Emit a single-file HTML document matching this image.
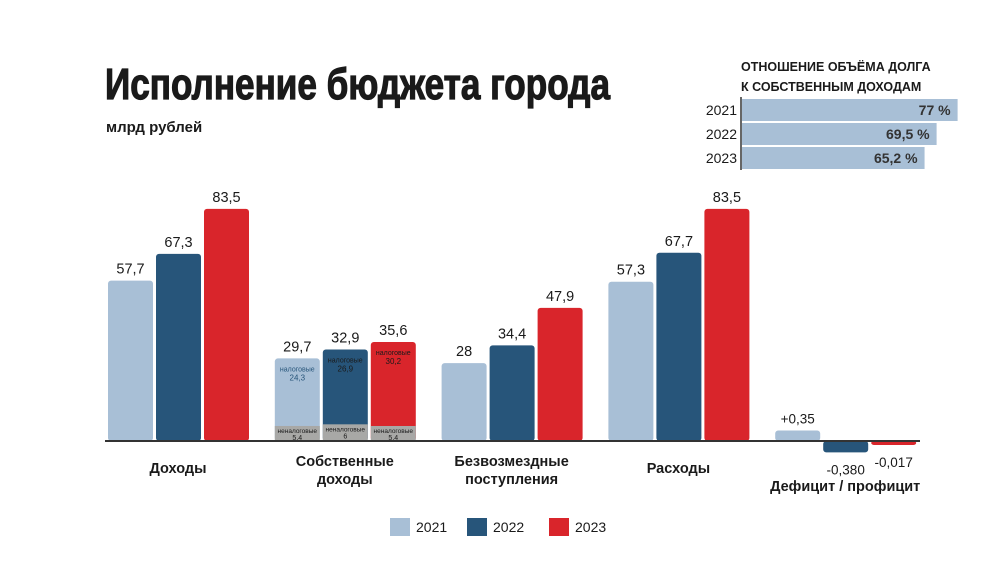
<!DOCTYPE html>
<html><head><meta charset="utf-8"><style>
body{margin:0;background:#fff;}
svg{display:block;font-family:"Liberation Sans",sans-serif;}
</style></head><body>
<svg id="c" width="1000" height="563" viewBox="0 0 1000 563">
<text x="105" y="99" font-family="'Liberation Sans Narrow','Liberation Sans',sans-serif" font-weight="bold" font-size="44" fill="#1a1a1a" stroke="#1a1a1a" stroke-width="1.2" textLength="505" lengthAdjust="spacingAndGlyphs">Исполнение бюджета города</text>
<text x="106" y="132" font-weight="bold" font-size="15" fill="#1a1a1a">млрд рублей</text>
<text x="741" y="71" font-weight="bold" font-size="12.5" fill="#1a1a1a">ОТНОШЕНИЕ ОБЪЁМА ДОЛГА</text>
<text x="741" y="91" font-weight="bold" font-size="12.5" fill="#1a1a1a">К СОБСТВЕННЫМ ДОХОДАМ</text>
<g id="debt"></g>
<g id="bars"></g>
<line x1="105" y1="441" x2="920" y2="441" stroke="#333" stroke-width="2"/>
<g id="legend"></g>
</svg>
<script>
const years=['2021','2022','2023'];
const colors=['#a8bfd6','#27557a','#d9252b'];
const categories=['Доходы','Собственные|доходы','Безвозмездные|поступления','Расходы','Дефицит / профицит'];
const values2021=[57.7,29.7,28,57.3,0.35];
const values2022=[67.3,32.9,34.4,67.7,-0.380];
const values2023=[83.5,35.6,47.9,83.5,-0.017];
const labels2021=['57,7','29,7','28','57,3','+0,35'];
const labels2022=['67,3','32,9','34,4','67,7','-0,380'];
const labels2023=['83,5','35,6','47,9','83,5','-0,017'];
const taxValues=[24.3,26.9,30.2];
const taxLabels=['24,3','26,9','30,2'];
const nontaxValues=[5.4,6,5.4];
const nontaxLabels=['5,4','6','5,4'];
const debtValues=[77,69.5,65.2];
const debtLabels=['77 %','69,5 %','65,2 %'];

const NS='http://www.w3.org/2000/svg';
function mk(tag,attrs,parent,text){const e=document.createElementNS(NS,tag);for(const k in attrs)e.setAttribute(k,attrs[k]);if(text!==undefined)e.textContent=text;parent.appendChild(e);return e;}
const base=441;
const y=v=>base-v*2.78;
const yd=v=>base-v*30;
const groupX=i=>108+i*166.8;
const barX=(i,j)=>groupX(i)+j*48;
const bw=45;
const bars=document.getElementById('bars');
const series=[values2021,values2022,values2023];
const slabels=[labels2021,labels2022,labels2023];
categories.forEach((cat,i)=>{
  for(let j=0;j<3;j++){
    const v=series[j][i];
    const x=barX(i,j);
    let top,bot;
    if(i===4){
      top=v>=0?yd(v):base; bot=v>=0?base:Math.max(yd(v),base+4);
    } else {top=y(v);bot=base;}
    const r=mk('rect',{x:x,y:top,width:bw,height:bot-top,rx:3,fill:colors[j]},bars);
    
    
    if(i===1){
      const gt=y(nontaxValues[j]);
      const g=mk('rect',{x:x,y:gt,width:bw,height:base-gt,fill:'#a8a8a6'},bars);
      
      
      const t1=mk('text',{x:x+bw/2,y:top+13,'text-anchor':'middle','font-size':7,fill:j===0?'#27557a':'#1a1a1a'},bars,'налоговые');
      
      
      const t2=mk('text',{x:x+bw/2,y:top+22,'text-anchor':'middle','font-size':8,fill:j===0?'#27557a':'#1a1a1a'},bars,taxLabels[j]);
      
      
      const t3=mk('text',{x:x+bw/2,y:gt+7,'text-anchor':'middle','font-size':6.5,fill:'#1a1a1a'},bars,'неналоговые');
      
      
      const t4=mk('text',{x:x+bw/2,y:gt+14,'text-anchor':'middle','font-size':7,fill:'#1a1a1a'},bars,nontaxLabels[j]);
      
      
    }
    const ly=(i===4&&v<0)?bot+22:top-7;
    const l=mk('text',{x:x+bw/2,y:ly,'text-anchor':'middle','font-size':i===4?13.5:14.5,fill:'#1a1a1a'},bars,slabels[j][i]);
    
    
  }
  const lines=cat.split('|');
  const cx=groupX(i)+70;
  const cy=i===4?491:473;
  lines.forEach((ln,k)=>{
    const t=mk('text',{x:cx,y:cy+k*18-(lines.length>1?7:0),'text-anchor':'middle','font-size':14.5,'font-weight':'bold',fill:'#1a1a1a'},bars,ln);
    
    
  });
});
const debt=document.getElementById('debt');
const dx=741, dScale=2.8;
debtValues.forEach((v,k)=>{
  const yy=99+k*24;
  const r=mk('rect',{x:dx+1,y:yy,width:v*dScale,height:22,fill:'#a8bfd6'},debt);
  
  
  const t=mk('text',{x:dx+v*dScale-6,y:yy+16,'text-anchor':'end','font-size':14,'font-weight':'bold',fill:'#333'},debt,debtLabels[k]);
  
  
  const yl=mk('text',{x:dx-4,y:yy+16,'text-anchor':'end','font-size':14,fill:'#1a1a1a'},debt,years[k]);
  
  
});
const ax=mk('line',{x1:dx,y1:97,x2:dx,y2:170,stroke:'#333','stroke-width':1.5},debt);


const lg=document.getElementById('legend');
const legX=[390,467,549];
years.forEach((yr,j)=>{
  const r=mk('rect',{x:legX[j],y:518,width:20,height:18,fill:colors[j]},lg);
  
  
  const t=mk('text',{x:legX[j]+26,y:532,'font-size':14,fill:'#1a1a1a'},lg,yr);
  
  
});
</script>
</body></html>
